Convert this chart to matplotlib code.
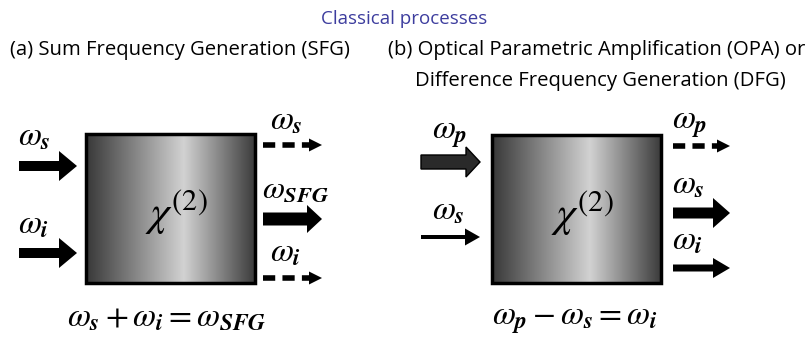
import numpy as np
import matplotlib.pyplot as plt
from matplotlib.patches import FancyArrow, Rectangle
from matplotlib.colors import LinearSegmentedColormap

plt.rcParams['mathtext.fontset'] = 'stix'

# text content
main_title = 'Classical processes'
panel_titles = ['(a) Sum Frequency Generation (SFG)',
                '(b) Optical Parametric Amplification (OPA) or',
                'Difference Frequency Generation (DFG)']
crystal_label = r'$\chi^{(2)}$'

# (a) SFG: inputs / outputs
sfg_inputs = [r'$\omega_{\mathbfit{s}}$', r'$\omega_{\mathbfit{i}}$']
sfg_outputs = [r'$\omega_{\mathbfit{s}}$', r'$\omega_{\mathbfit{SFG}}$', r'$\omega_{\mathbfit{i}}$']
sfg_out_kind = ['dashed', 'thick', 'dashed']
sfg_relation = r'$\omega_{\mathbfit{s}} + \omega_{\mathbfit{i}} = \omega_{\mathbfit{SFG}}$'

# (b) OPA / DFG
opa_inputs = [r'$\omega_{\mathbfit{p}}$', r'$\omega_{\mathbfit{s}}$']
opa_in_kind = ['block', 'thin']
opa_outputs = [r'$\omega_{\mathbfit{p}}$', r'$\omega_{\mathbfit{s}}$', r'$\omega_{\mathbfit{i}}$']
opa_out_kind = ['dashed', 'wide', 'medium']
opa_relation = r'$\omega_{\mathbfit{p}} - \omega_{\mathbfit{s}} = \omega_{\mathbfit{i}}$'

W, H = 808, 339
fig = plt.figure(figsize=(W / 100, H / 100), dpi=100)
ax = fig.add_axes([0, 0, 1, 1])
ax.set_xlim(0, W)
ax.set_ylim(H, 0)
ax.axis('off')

grad_cmap = LinearSegmentedColormap.from_list(
    'crystal', [(0, '#383838'), (0.58, '#d2d2d2'), (1, '#3c3c3c')])


def crystal(x0, x1, y0, y1):
    g = np.linspace(0, 1, 256)[None, :]
    ax.imshow(g, cmap=grad_cmap, extent=(x0, x1, y1, y0), aspect='auto', zorder=1)
    ax.add_patch(Rectangle((x0, y0), x1 - x0, y1 - y0, fill=False,
                           ec='black', lw=2.5, zorder=2))
    ax.text((x0 + x1) / 2 + 6, (y0 + y1) / 2 + 4, crystal_label, fontsize=31,
            ha='center', va='center', zorder=3)


# arrow styles: shaft width, head width, head length
styles = {
    'thick': (10, 30, 18),
    'wide': (11, 30, 17),
    'sfg': (13, 28, 15),
    'medium': (7, 20, 17),
    'thin': (4, 17, 15),
}


def arrow(x0, x1, y, kind):
    length = x1 - x0
    if kind == 'dashed':
        ax.plot([x0, x1 - 12], [y, y], color='black', lw=4,
                dashes=(2.2, 1.3), solid_capstyle='butt')
        ax.add_patch(FancyArrow(x1 - 14, y, 14, 0, width=1.2, head_width=13,
                                head_length=13, length_includes_head=True,
                                color='black', lw=0))
    elif kind == 'block':
        ax.add_patch(FancyArrow(x0, y, length, 0, width=14, head_width=30,
                                head_length=14, length_includes_head=True,
                                fc='#2a2a2a', ec='black', lw=1))
    else:
        w, hw, hl = styles[kind]
        ax.add_patch(FancyArrow(x0, y, length, 0, width=w, head_width=hw,
                                head_length=hl, length_includes_head=True,
                                color='black', lw=0))


lab = dict(fontsize=24, ha='left', va='baseline')
head = dict(fontsize=14.6, ha='left', family='Open Sans')

# titles
ax.text(404, 24, main_title, fontsize=13.5, color='#3d3d9e', ha='center',
        family='Open Sans')
ax.text(10, 55, panel_titles[0], **head)
ax.text(388, 55, panel_titles[1], **head)
ax.text(415, 86, panel_titles[2], **head)

# panel (a)
crystal(86, 255, 134, 283)
for y, t in zip([166, 253], sfg_inputs):
    arrow(19, 77, y, 'thick')
    ax.text(18, y - 20, t, **lab)
sfg_out_kind[1] = 'sfg'
for y, t, k in zip([145, 219, 278], sfg_outputs, sfg_out_kind):
    arrow(263, 322, y, k)
ax.text(270, 130, sfg_outputs[0], **lab)
ax.text(262, 198, sfg_outputs[1], fontsize=23, ha='left', va='baseline')
ax.text(270, 262, sfg_outputs[2], **lab)
ax.text(167, 325, sfg_relation, fontsize=24, ha='center', va='baseline')

# panel (b)
crystal(492, 661, 135, 283)
for y, t, k in zip([162, 237], opa_inputs, opa_in_kind):
    arrow(421, 480, y, k)
ax.text(432, 138, opa_inputs[0], **lab)
ax.text(432, 220, opa_inputs[1], **lab)
for y, t, k in zip([146, 213, 268], opa_outputs, opa_out_kind):
    arrow(673, 730, y, k)
ax.text(672, 128, opa_outputs[0], **lab)
ax.text(672, 194, opa_outputs[1], **lab)
ax.text(672, 249, opa_outputs[2], **lab)
ax.text(575, 325, opa_relation, fontsize=24, ha='center', va='baseline')

fig.savefig('out.png', dpi=100)
